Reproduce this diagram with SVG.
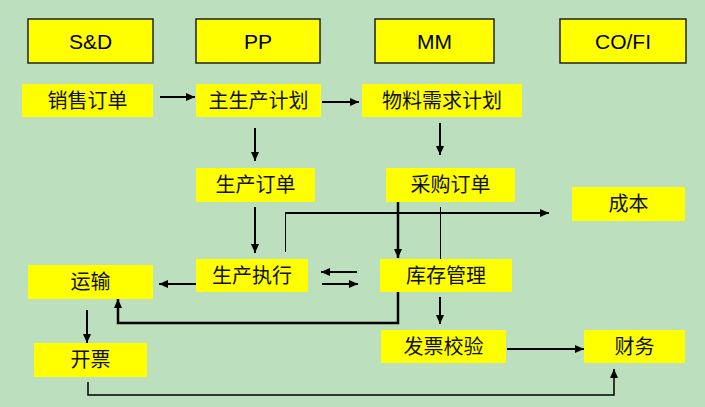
<svg xmlns="http://www.w3.org/2000/svg" width="705" height="407" viewBox="0 0 705 407">
<defs>
<style>
.hdr rect{fill:#FFFF00;stroke:#222;stroke-width:1.5}
.hdr text{font-family:"Liberation Sans",Arial,sans-serif;font-size:21px;fill:#000;text-anchor:middle}
.nd rect{fill:#FFFF00}
.nd text{font-family:"Noto Sans CJK SC",sans-serif;font-size:20px;fill:#111;text-anchor:middle}
.c{fill:none;stroke:#000;stroke-width:2}
.t{fill:none;stroke:#000;stroke-width:1}
.m{fill:none;stroke:#000;stroke-width:1.5}
</style>
<marker id="a" markerUnits="userSpaceOnUse" markerWidth="9" markerHeight="8" refX="9" refY="4" orient="auto"><path d="M0,0 L9,4 L0,8 z" fill="#000"/></marker>
</defs>
<rect width="705" height="407" fill="#BCE0BE"/>
<g id="sd" class="hdr"><rect x="28" y="19" width="125" height="44"/><text x="90.5" y="49">S&amp;D</text></g>
<g id="pp" class="hdr"><rect x="196" y="19" width="124" height="44"/><text x="258" y="49">PP</text></g>
<g id="mm" class="hdr"><rect x="375" y="19" width="119" height="44"/><text x="434.5" y="49">MM</text></g>
<g id="cofi" class="hdr"><rect x="560" y="19" width="126" height="44"/><text x="623" y="49">CO/FI</text></g>
<g id="xsdd" class="nd"><rect x="22" y="84" width="131" height="33"/><text x="87.5" y="108">销售订单</text></g>
<g id="zscjh" class="nd"><rect x="196" y="84" width="125" height="33"/><text x="258.5" y="108">主生产计划</text></g>
<g id="wlxqjh" class="nd"><rect x="362" y="84" width="160" height="33"/><text x="442" y="108">物料需求计划</text></g>
<g id="scdd" class="nd"><rect x="196" y="168" width="119" height="34"/><text x="255.5" y="192">生产订单</text></g>
<g id="cgdd" class="nd"><rect x="386" y="168" width="129" height="34"/><text x="450.5" y="192">采购订单</text></g>
<g id="cb" class="nd"><rect x="572" y="187" width="113" height="34"/><text x="628.5" y="211">成本</text></g>
<g id="sczx" class="nd"><rect x="196" y="259" width="112" height="33"/><text x="252" y="283">生产执行</text></g>
<g id="kcgl" class="nd"><rect x="380" y="259" width="132" height="33"/><text x="446" y="283">库存管理</text></g>
<g id="ys" class="nd"><rect x="28" y="265" width="125" height="34"/><text x="90.5" y="289">运输</text></g>
<g id="kp" class="nd"><rect x="34" y="343" width="113" height="34"/><text x="90.5" y="367">开票</text></g>
<g id="fpjy" class="nd"><rect x="381" y="330" width="125" height="33"/><text x="443.5" y="354">发票校验</text></g>
<g id="cw" class="nd"><rect x="584" y="330" width="101" height="33"/><text x="634.5" y="354">财务</text></g>
<g id="connectors">
<path class="c" d="M160,97 H195" marker-end="url(#a)"/>
<path class="c" d="M322,102 H359" marker-end="url(#a)"/>
<path class="c" d="M255,128 V161" marker-end="url(#a)"/>
<path class="c" d="M440,123 V155" marker-end="url(#a)"/>
<path class="c" d="M255,207 V253" marker-end="url(#a)"/>
<path class="t" d="M285.5,252 V213"/>
<path class="c" d="M285,213 H549" marker-end="url(#a)"/>
<path class="c" style="stroke-width:2.5" d="M398,202 V258" marker-end="url(#a)"/>
<path class="t" d="M440.5,207 V259"/>
<path class="c" d="M357,272 H321" marker-end="url(#a)"/>
<path class="c" d="M322,284 H358" marker-end="url(#a)"/>
<path class="c" d="M196,284 H159" marker-end="url(#a)"/>
<path class="c" style="stroke-width:2.5" d="M398,292 V323 H118 V299" marker-end="url(#a)"/>
<path class="c" d="M87,310 V343" marker-end="url(#a)"/>
<path class="m" d="M88,382 V395 H614 V369" marker-end="url(#a)"/>
<path class="c" d="M440,297 V324" marker-end="url(#a)"/>
<path class="c" d="M507,349 H584" marker-end="url(#a)"/>
</g>
</svg>
